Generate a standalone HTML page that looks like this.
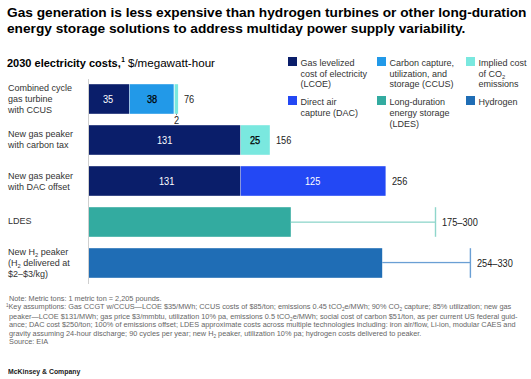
<!DOCTYPE html>
<html><head><meta charset="utf-8">
<style>
*{margin:0;padding:0;box-sizing:border-box}
html,body{width:531px;height:379px;background:#fff;overflow:hidden}
body{position:relative;font-family:"Liberation Sans",sans-serif;color:#222}
.a{position:absolute;white-space:nowrap}
.title{left:7px;top:4.8px;font-weight:bold;font-size:13.7px;line-height:16.4px;color:#000}
.sub{left:7px;top:55.6px;font-size:11px;line-height:13px;color:#000}
.sub i{font-style:normal;font-size:11.6px}
.sub b{font-weight:bold}
.sub sup{font-size:6.5px;font-weight:bold;vertical-align:0;position:relative;top:-4.5px;margin-left:0.5px}
.lab{left:8px;font-size:9px;line-height:10.9px;color:#333}
.leg{font-size:9px;line-height:10.9px;color:#333}
.sq{position:absolute;width:9px;height:9px}
.bar{position:absolute;height:29.5px}
.num{position:absolute;font-size:10px;line-height:10px;color:#222;transform:scaleX(0.92);transform-origin:left top}
.w{color:#fff}
.axis{position:absolute;left:88px;top:79px;width:1px;height:205px;background:#ccc}
.note{left:9px;top:294.8px;font-size:7.33px;line-height:8.5px;color:#666}
.logo{left:7.5px;top:367.2px;font-weight:bold;font-size:8px;line-height:10px;color:#1a1a1a;transform:scaleX(0.86);transform-origin:left top}
sub.s{font-size:0.64em;vertical-align:-0.32em;line-height:0}
</style></head><body>
<div class="a title">Gas generation is less expensive than hydrogen turbines or other long-duration<br>energy storage solutions to address multiday power supply variability.</div>
<div class="a sub"><b>2030 electricity costs,</b><sup>1</sup> <i>$/megawatt-hour</i></div>

<!-- legend -->
<div class="sq" style="left:288px;top:57.4px;background:#0a1e6a"></div>
<div class="a leg" style="left:300.5px;top:57.6px">Gas levelized<br>cost of electricity<br>(LCOE)</div>
<div class="sq" style="left:377px;top:57.4px;background:#2299e8"></div>
<div class="a leg" style="left:389.5px;top:57.6px">Carbon capture,<br>utilization, and<br>storage (CCUS)</div>
<div class="sq" style="left:466px;top:57.4px;background:#7ae8df"></div>
<div class="a leg" style="left:478.5px;top:57.6px">Implied cost<br>of CO<sub class="s">2</sub><br>emissions</div>

<div class="sq" style="left:288px;top:96.4px;background:#2348f4"></div>
<div class="a leg" style="left:300.5px;top:97px">Direct air<br>capture (DAC)</div>
<div class="sq" style="left:377px;top:96.4px;background:#33aba0"></div>
<div class="a leg" style="left:389.5px;top:97px">Long-duration<br>energy storage<br>(LDES)</div>
<div class="sq" style="left:466px;top:96.4px;background:#1f6db5"></div>
<div class="a leg" style="left:478.5px;top:97px">Hydrogen</div>

<!-- labels -->
<div class="a lab" style="top:82.9px">Combined cycle<br>gas turbine<br>with CCUS</div>
<div class="a lab" style="top:129.4px">New gas peaker<br>with carbon tax</div>
<div class="a lab" style="top:170.6px">New gas peaker<br>with DAC offset</div>
<div class="a lab" style="top:216.1px">LDES</div>
<div class="a lab" style="top:246.7px">New H<sub class="s">2</sub> peaker<br>(H<sub class="s">2</sub> delivered at<br>$2–$3/kg)</div>

<svg class="chart" width="531" height="379" viewBox="0 0 531 379" style="position:absolute;left:0;top:0">
<rect x="88" y="79" width="1" height="205" fill="#cfcfcf"/>
<rect x="89" y="84.2" width="40.2" height="29.6" fill="#0a1e6a"/>
<rect x="129.7" y="84.2" width="44" height="29.6" fill="#2299e8"/>
<rect x="174.6" y="84.2" width="3.5" height="29.6" fill="#7ae8df"/>
<rect x="176" y="113.8" width="0.8" height="1.4" fill="#666"/>
<rect x="89" y="125.2" width="151.3" height="29.6" fill="#0a1e6a"/>
<rect x="240.7" y="125.2" width="29.1" height="29.6" fill="#7ae8df"/>
<rect x="89" y="166.2" width="151.3" height="29.6" fill="#0a1e6a"/>
<rect x="240.7" y="166.2" width="144.9" height="29.6" fill="#2348f4"/>
<rect x="89" y="207.2" width="201.8" height="29.6" fill="#33aba0"/>
<rect x="290.8" y="221.5" width="144.7" height="1.3" fill="#8fd6cb"/>
<rect x="434.8" y="207.2" width="1.4" height="29.6" fill="#8fd6cb"/>
<rect x="89" y="248.2" width="293.2" height="29.6" fill="#1f6db5"/>
<rect x="382.2" y="261.9" width="88.2" height="1.3" fill="#6a9fd4"/>
<rect x="469.7" y="248.2" width="1.4" height="29.6" fill="#6a9fd4"/>
</svg>
<div class="num w" style="left:103px;top:94.5px">35</div>
<div class="num" style="left:146.5px;top:94.5px;color:#000;-webkit-text-stroke:0.25px #000">38</div>
<div class="num" style="left:184px;top:94.5px">76</div>
<div class="num" style="left:174px;top:116px">2</div>
<div class="num w" style="left:157px;top:135.7px">131</div>
<div class="num" style="left:249.5px;top:136px;color:#000;-webkit-text-stroke:0.25px #000">25</div>
<div class="num" style="left:276px;top:136px">156</div>
<div class="num w" style="left:159px;top:176.5px">131</div>
<div class="num w" style="left:305px;top:176.5px">125</div>
<div class="num" style="left:392px;top:176.5px">256</div>
<div class="num" style="left:442.4px;top:217.8px">175–300</div>
<div class="num" style="left:477px;top:258.7px">254–330</div>
<!-- notes -->
<div class="a note">Note: Metric tons: 1 metric ton = 2,205 pounds.<br><span style="font-size:4.6px;position:relative;top:-2.3px;margin-left:-3.1px">1</span>Key assumptions: Gas CCGT w/CCUS—LCOE $35/MWh; CCUS costs of $85/ton; emissions 0.45 tCO<sub class="s">2</sub>e/MWh; 90% CO<sub class="s">2</sub> capture; 85% utilization; new gas<br>peaker—LCOE $131/MWh; gas price $3/mmbtu, utilization 10% pa, emissions 0.5 tCO<sub class="s">2</sub>e/MWh; social cost of carbon $51/ton, as per current US federal guid-<br>ance; DAC cost $250/ton; 100% of emissions offset; LDES approximate costs across multiple technologies including: iron air/flow, Li-ion, modular CAES and<br>gravity assuming 24-hour discharge; 90 cycles per year; new H<sub class="s">2</sub> peaker, utilization 10% pa; hydrogen costs delivered to peaker.<br>Source: EIA</div>

<div class="a logo">McKinsey &amp; Company</div>
</body></html>
